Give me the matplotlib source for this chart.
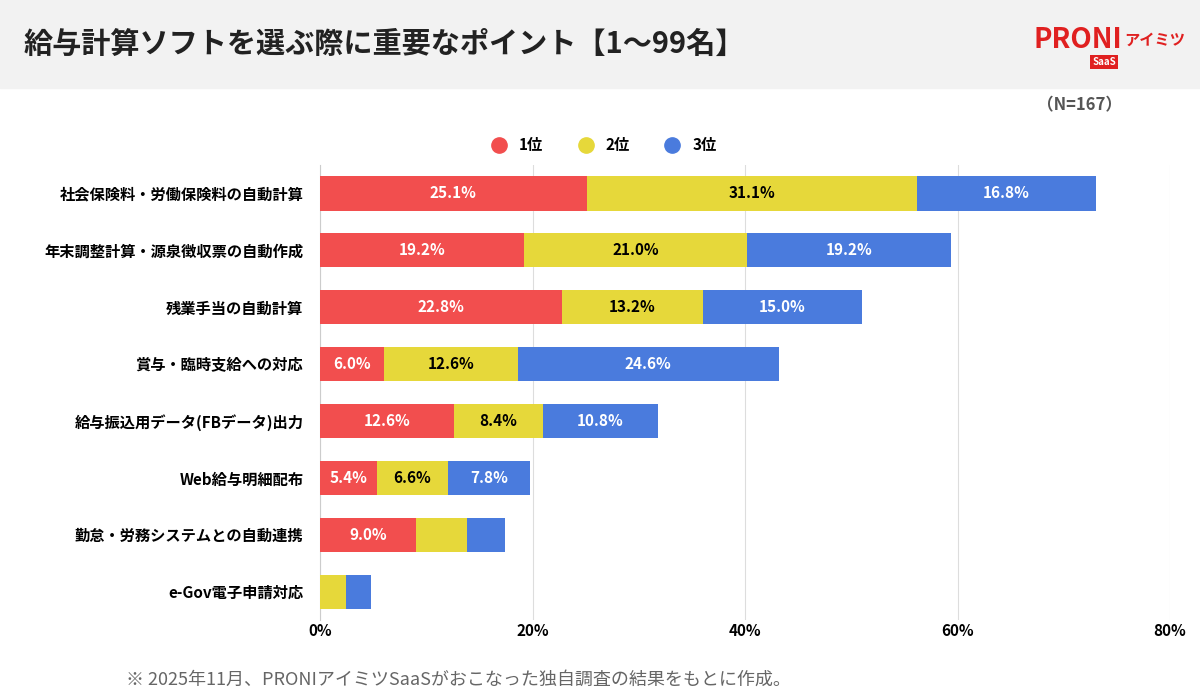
import matplotlib.pyplot as plt
from matplotlib.patches import Rectangle
from matplotlib.lines import Line2D

plt.rcParams['font.family'] = ['Noto Sans CJK JP', 'DejaVu Sans']

categories = ['社会保険料・労働保険料の自動計算', '年末調整計算・源泉徴収票の自動作成', '残業手当の自動計算',
              '賞与・臨時支給への対応', '給与振込用データ(FBデータ)出力', 'Web給与明細配布',
              '勤怠・労務システムとの自動連携', 'e-Gov電子申請対応']
rank1 = [25.1, 19.2, 22.8, 6.0, 12.6, 5.4, 9.0, 0.0]
rank2 = [31.1, 21.0, 13.2, 12.6, 8.4, 6.6, 4.8, 2.4]
rank3 = [16.8, 19.2, 15.0, 24.6, 10.8, 7.8, 3.6, 2.4]
series = [('1位', rank1, '#F24E4E', 'white'), ('2位', rank2, '#E6D83A', 'black'), ('3位', rank3, '#4A7BDD', 'white')]

fig = plt.figure(figsize=(12, 7), dpi=100)
fig.patches.append(Rectangle((0, 1 - 88 / 700), 1, 88 / 700, transform=fig.transFigure, color='#F2F2F2', zorder=0))
fig.text(0.02, 1 - 44 / 700, '給与計算ソフトを選ぶ際に重要なポイント【1〜99名】', fontsize=21, fontweight='bold', va='center', color='#222222')
fig.text(0.935, 1 - 40 / 700, 'PRONI', fontsize=20, fontweight='bold', style='italic', color='#E02020', ha='right', va='center')
fig.text(0.937, 1 - 40 / 700, 'アイミツ', fontsize=11, fontweight='bold', color='#E02020', ha='left', va='center')
fig.text(0.92, 1 - 62 / 700, 'SaaS', fontsize=7, fontweight='bold', color='white', ha='center', va='center',
         bbox=dict(boxstyle='square,pad=0.2', fc='#E02020', ec='none'))
fig.text(0.935, 1 - 105 / 700, '（N=167）', fontsize=12, fontweight='bold', color='#555555', ha='right', va='center')

ax = fig.add_axes([320 / 1200, 1 - 620 / 700, 850 / 1200, 455 / 700])
y = list(range(len(categories)))
left = [0.0] * len(categories)
handles = []
for name, vals, col, tcol in series:
    ax.barh(y, vals, left=left, color=col, height=0.6, zorder=3)
    for i, v in enumerate(vals):
        if v >= 5:
            ax.text(left[i] + v / 2, i, f'{v:.1f}%', ha='center', va='center', color=tcol, fontsize=11, fontweight='bold', zorder=4)
    left = [a + b for a, b in zip(left, vals)]
    handles.append(Line2D([], [], marker='o', ls='none', color=col, markersize=11, label=name))

ax.set_xlim(0, 80)
ax.set_ylim(len(categories) - 0.5, -0.5)
ax.set_yticks(y)
ax.set_yticklabels(categories, fontsize=11, fontweight='bold')
ax.set_xticks([0, 20, 40, 60, 80])
ax.set_xticklabels(['0%', '20%', '40%', '60%', '80%'], fontsize=11, fontweight='bold')
ax.tick_params(axis='y', length=0, pad=12)
ax.tick_params(axis='x', length=0, pad=2)
ax.grid(axis='x', color='#DDDDDD', zorder=0)
for s in ['top', 'right', 'bottom']:
    ax.spines[s].set_visible(False)
ax.spines['left'].set_color('#CCCCCC')

fig.legend(handles=handles, loc='center', bbox_to_anchor=(0.5, 1 - 145 / 700), ncol=3, frameon=False,
           prop={'weight': 'bold', 'size': 11}, handletextpad=0.3, columnspacing=1.8)
fig.text(0.105, 1 - 680 / 700, '※ 2025年11月、PRONIアイミツSaaSがおこなった独自調査の結果をもとに作成。', fontsize=13, color='#666666', va='center')

fig.savefig('out.png')
